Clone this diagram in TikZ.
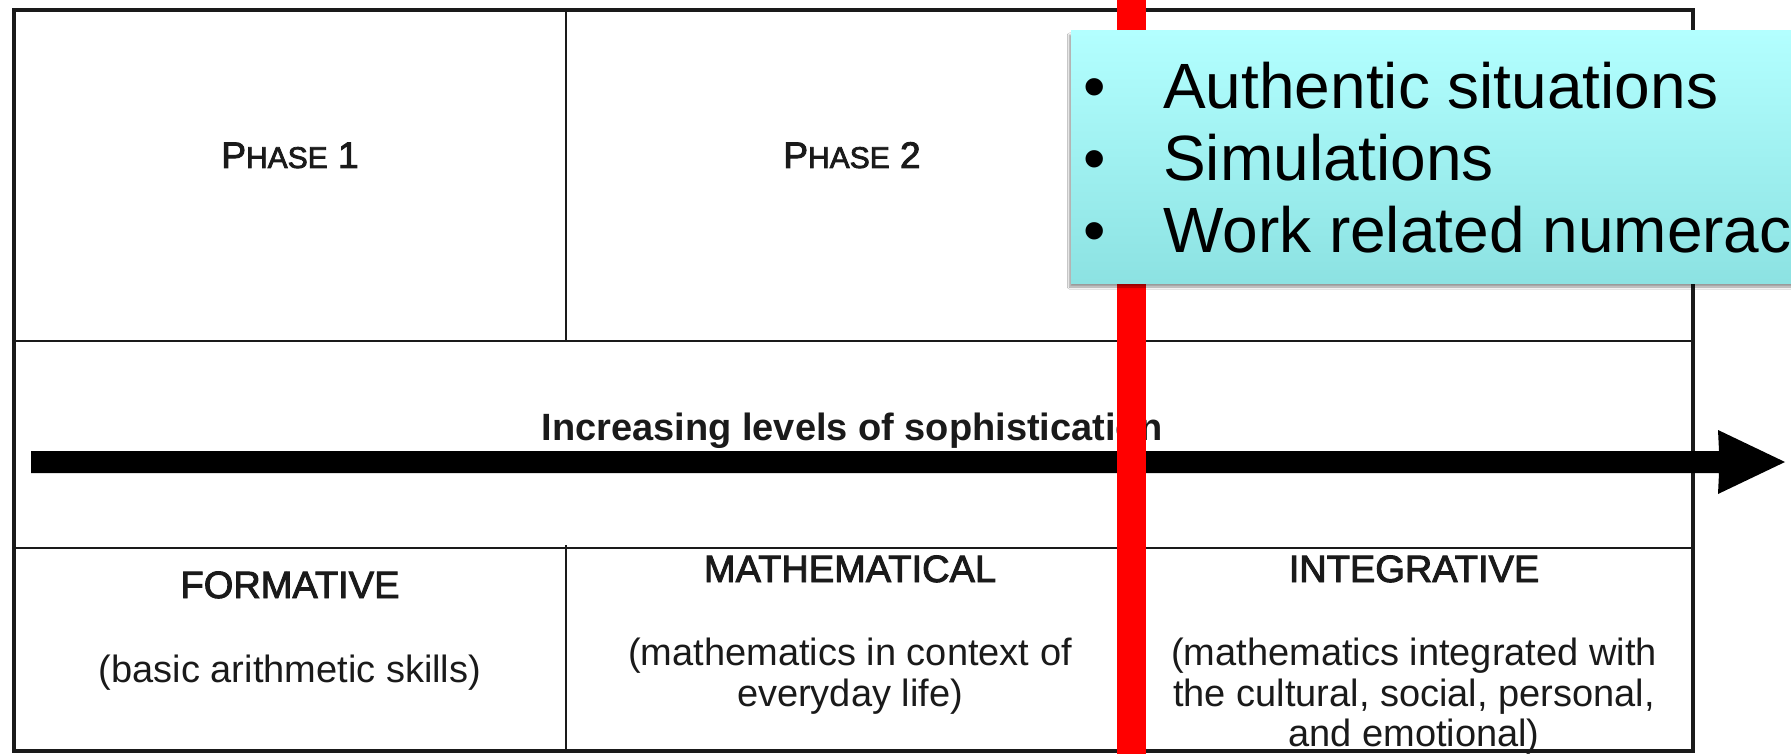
\documentclass[tikz,border=0pt]{standalone}
\usepackage{fontspec}
\setmainfont{Liberation Sans}
\newfontfamily\semiboldfont[FakeBold=2.5]{Liberation Sans}
\usetikzlibrary{shadows.blur}
\definecolor{calloutTop}{HTML}{B3FFFF}
\definecolor{calloutBot}{HTML}{8CE2E2}
\definecolor{ink}{HTML}{1A1A1A}
\begin{document}
\begin{tikzpicture}[x=1pt,y=-1pt,
  outerframe/.style={draw=ink,line width=4.5pt},
  innerline/.style={draw=ink,line width=2.5pt},
  celltext/.style={anchor=base,inner sep=0pt,text=ink,font=\fontsize{38}{40}\selectfont},
  celltitle/.style={anchor=base,inner sep=0pt,text=ink,font=\semiboldfont\fontsize{38}{40}\selectfont},
  headtext/.style={anchor=base,inner sep=0pt,text=ink,font=\semiboldfont\fontsize{37}{40}\selectfont},
  boldtext/.style={anchor=base,inner sep=0pt,text=ink,font=\bfseries\fontsize{38}{40}\selectfont},
  bullettext/.style={anchor=base west,inner sep=0pt,text=black,font=\fontsize{64}{70}\selectfont},
  bulletmark/.style={anchor=base,inner sep=0pt,text=black,font=\fontsize{64}{70}\selectfont},
  redbar/.style={fill=red,draw=none},
  callout/.style={top color=calloutTop,bottom color=calloutBot,draw=none,
    blur shadow={shadow xshift=-1.5pt,shadow yshift=-4pt,shadow blur steps=6,shadow opacity=40}}
]
\useasboundingbox (0,0) rectangle (1791,754);
\clip (0,0) rectangle (1791,754);
\fill[white] (0,0) rectangle (1791,754);

% table lines
\draw[innerline] (14,341) -- (1693,341);
\draw[innerline] (14,548) -- (1693,548);
\draw[innerline] (566,10) -- (566,341);
\draw[innerline] (566,545) -- (566,751);
\draw[innerline] (1132,10) -- (1132,341);
\draw[innerline] (1132,545) -- (1132,751);
\draw[outerframe] (14,10) rectangle (1693,751);

% phase headers
\node[headtext] (ph1) at (290,168) {P{\fontsize{30}{32}\selectfont HASE} 1};
\node[headtext] (ph2) at (852,168) {P{\fontsize{30}{32}\selectfont HASE} 2};

% arrow label and arrow
\node[boldtext] (lbl) at (852,440) {Increasing levels of sophistication};
\coordinate (aS1) at (31,451);
\coordinate (aS2) at (1719,451);
\coordinate (aH1) at (1718,430);
\coordinate (aTip) at (1785,462);
\coordinate (aH2) at (1718,494);
\coordinate (aS3) at (1719,473);
\coordinate (aS4) at (31,473);
\fill[black] (aS1) -- (aS2) -- (aH1) -- (aTip) -- (aH2) -- (aS3) -- (aS4) -- cycle;

% bottom row
\node[celltitle] (f1) at (290,598) {FORMATIVE};
\node[celltext] (f2) at (290,682) {(basic arithmetic skills)};
\node[celltitle] (m1) at (850,582) {MATHEMATICAL};
\node[celltext] (m2) at (850,665) {(mathematics in context of};
\node[celltext] (m3) at (850,706) {everyday life)};
\node[celltitle] (i1) at (1414,582) {INTEGRATIVE};
\node[celltext] (i2) at (1414,665) {(mathematics integrated with};
\node[celltext] (i3) at (1414,706) {the cultural, social, personal,};
\node[celltext] (i4) at (1414,746) {and emotional)};

% red bar
\fill[redbar] (1117,0) rectangle (1146,754);

% callout
\path[callout] (1071,31) rectangle (1820,283);
\node[bulletmark] (b1) at (1095,109) {•};
\node[bulletmark] (b2) at (1095,181) {•};
\node[bulletmark] (b3) at (1095,252) {•};
\node[bullettext] (t1) at (1163,109) {Authentic situations};
\node[bullettext] (t2) at (1163,181) {Simulations};
\node[bullettext] (t3) at (1163,252) {Work related numeracy};
\end{tikzpicture}
\end{document}
